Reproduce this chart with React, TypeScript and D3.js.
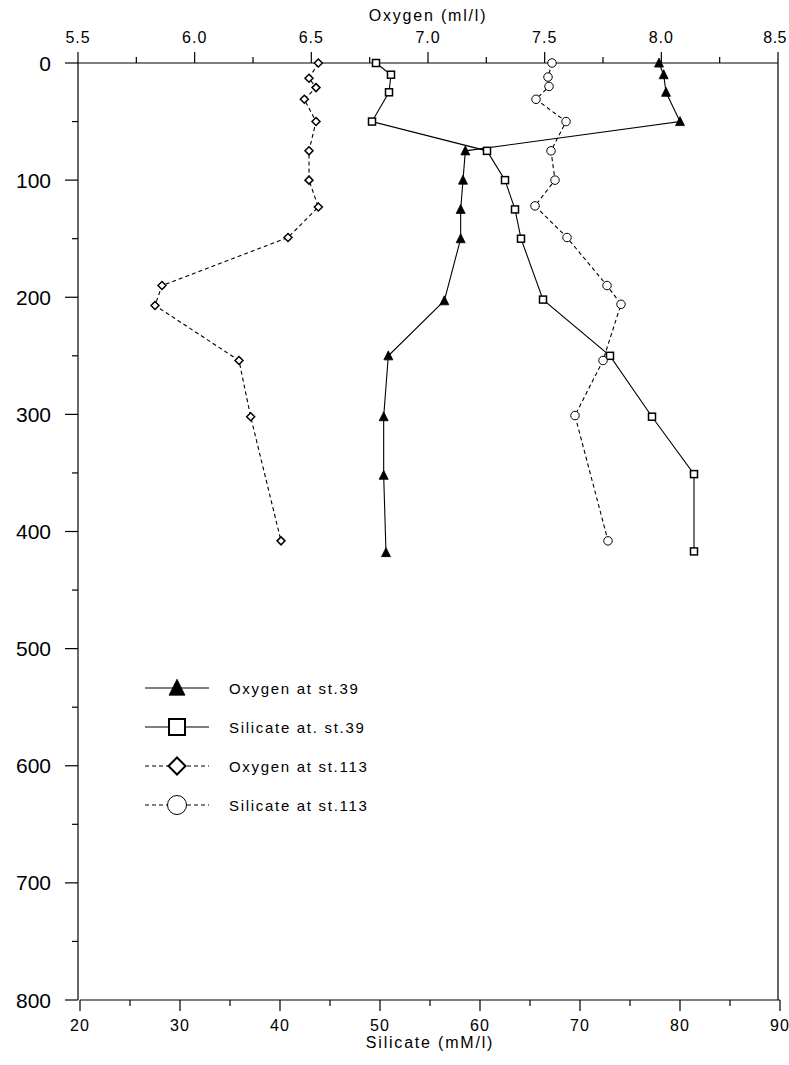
import React from "react";
import * as d3 from "d3";

// ---- data ----
const oxy39Depth = [0, 10, 25, 50, 75, 100, 125, 150, 203, 250, 302, 352, 418];
const oxy39Value = [7.99, 8.01, 8.02, 8.08, 7.16, 7.15, 7.14, 7.14, 7.07, 6.83, 6.81, 6.81, 6.82];

const sil39Depth = [0, 10, 25, 50, 75, 100, 125, 150, 202, 250, 302, 351, 417];
const sil39Value = [49.6, 51.1, 50.9, 49.2, 60.7, 62.5, 63.5, 64.1, 66.3, 73.0, 77.2, 81.4, 81.4];

const oxy113Depth = [0, 13, 21, 31, 50, 75, 100, 123, 149, 190, 207, 254, 302, 408];
const oxy113Value = [6.53, 6.49, 6.52, 6.47, 6.52, 6.49, 6.49, 6.53, 6.40, 5.86, 5.83, 6.19, 6.24, 6.37];

const sil113Depth = [0, 12, 20, 31, 50, 75, 100, 122, 149, 190, 206, 254, 301, 408];
const sil113Value = [67.2, 66.8, 66.9, 65.6, 68.6, 67.1, 67.5, 65.5, 68.7, 72.7, 74.1, 72.3, 69.5, 72.8];

const oxyTicks = [5.5, 6.0, 6.5, 7.0, 7.5, 8.0, 8.5];
const silTicks = [20, 30, 40, 50, 60, 70, 80, 90];
const depthTicks = [0, 100, 200, 300, 400, 500, 600, 700, 800];

const legendLabels = ["Oxygen at st.39", "Silicate at. st.39", "Oxygen at st.113", "Silicate at st.113"];

const FONT = "'Liberation Sans', Arial, sans-serif";

type Kind = "tri" | "sq" | "dia" | "circ";

function Marker({ kind, x, y, s }: { kind: Kind; x: number; y: number; s: number }) {
  if (kind === "tri") {
    const h = s;
    const w = s;
    return (
      <path
        d={`M${x},${y - h * 0.55} L${x + w / 2},${y + h * 0.45} L${x - w / 2},${y + h * 0.45} Z`}
        fill="#000"
        stroke="#000"
        strokeWidth={0.8}
      />
    );
  }
  if (kind === "sq") {
    return (
      <rect x={x - s / 2} y={y - s / 2} width={s} height={s} fill="#fff" stroke="#000" strokeWidth={s > 10 ? 2 : 1.5} />
    );
  }
  if (kind === "dia") {
    const r = s / 2;
    return (
      <path
        d={`M${x},${y - r} L${x + r},${y} L${x},${y + r} L${x - r},${y} Z`}
        fill="#fff"
        stroke="#000"
        strokeWidth={s > 10 ? 2 : 1.5}
      />
    );
  }
  return <circle cx={x} cy={y} r={s / 2} fill="#fff" stroke="#000" strokeWidth={1} />;
}

export default function App() {
  const W = 789;
  const H = 1065;
  const left = 78;
  const right = 778;
  const top = 63;
  const bottom = 1000;

  const xO = d3.scaleLinear().domain([5.5, 8.5]).range([left, right]);
  const xS = d3.scaleLinear().domain([20, 90]).range([80, 780]);
  const yD = d3.scaleLinear().domain([0, 800]).range([top, bottom]);

  const line = d3.line<[number, number]>().x((d) => d[0]).y((d) => d[1]);

  const series = [
    { kind: "tri" as Kind, dash: undefined, pts: oxy39Value.map((v, i) => [xO(v), yD(oxy39Depth[i])] as [number, number]), s: 9 },
    { kind: "sq" as Kind, dash: undefined, pts: sil39Value.map((v, i) => [xS(v), yD(sil39Depth[i])] as [number, number]), s: 7 },
    { kind: "dia" as Kind, dash: "4,3", pts: oxy113Value.map((v, i) => [xO(v), yD(oxy113Depth[i])] as [number, number]), s: 8 },
    { kind: "circ" as Kind, dash: "4,3", pts: sil113Value.map((v, i) => [xS(v), yD(sil113Depth[i])] as [number, number]), s: 8.5 },
  ];

  const oxyMinor = d3.range(5.5, 8.5001, 0.25);
  const silMinor = d3.range(20, 90.001, 5);
  const depthMinor = d3.range(0, 800.001, 50);

  const legendY = [688, 727, 766, 805];
  const legendSizes = [16, 16, 17, 19];

  return (
    <svg
      width={W}
      height={H}
      style={{ position: "absolute", left: 0, top: 0, background: "#fff" }}
      fontFamily={FONT}
    >
      <rect x={0} y={0} width={W} height={H} fill="#fff" />

      {/* frame */}
      <line x1={left} x2={right} y1={top} y2={top} stroke="#000" strokeWidth={1.2} />
      <line x1={left} x2={left} y1={top} y2={bottom} stroke="#000" strokeWidth={1.2} />
      <line x1={right} x2={right} y1={top} y2={bottom} stroke="#000" strokeWidth={1.2} />
      <line x1={xS(20)} x2={xS(90)} y1={bottom} y2={bottom} stroke="#000" strokeWidth={1.2} />

      {/* top axis: oxygen */}
      {oxyMinor.map((t, i) => {
        const major = i % 2 === 0;
        return (
          <line key={"ot" + i} x1={xO(t)} x2={xO(t)} y1={top} y2={top - (major ? 11 : 6)} stroke="#000" strokeWidth={1.2} />
        );
      })}
      {oxyTicks.map((t, i) => {
        const last = i === oxyTicks.length - 1;
        return (
          <text
            key={"ol" + t}
            x={last ? 787 : xO(t)}
            y={43}
            fontSize={16}
            letterSpacing={last ? 0.5 : 1}
            textAnchor={last ? "end" : "middle"}
            fill="#000"
          >
            {d3.format(".1f")(t)}
          </text>
        );
      })}
      <text x={xO(7.0)} y={21} fontSize={16} letterSpacing={1.8} textAnchor="middle" fill="#000">
        Oxygen (ml/l)
      </text>

      {/* bottom axis: silicate */}
      {silMinor.map((t, i) => {
        const major = i % 2 === 0;
        return (
          <line key={"st" + i} x1={xS(t)} x2={xS(t)} y1={bottom} y2={bottom + (major ? 11 : 6)} stroke="#000" strokeWidth={1.2} />
        );
      })}
      {silTicks.map((t) => (
        <text key={"sl" + t} x={xS(t)} y={1031} fontSize={16} letterSpacing={1} textAnchor="middle" fill="#000">
          {t}
        </text>
      ))}
      <text x={xS(55)} y={1048} fontSize={16} letterSpacing={1.8} textAnchor="middle" fill="#000">
        Silicate (mM/l)
      </text>

      {/* left axis: depth */}
      {depthMinor.map((t, i) => {
        const major = i % 2 === 0;
        return (
          <line key={"dt" + i} x1={left} x2={left - (major ? 13 : 6)} y1={yD(t)} y2={yD(t)} stroke="#000" strokeWidth={1.2} />
        );
      })}
      {depthTicks.map((t) => (
        <text key={"dl" + t} x={51} y={yD(t) + 7.5} fontSize={21} textAnchor="end" fill="#000">
          {t}
        </text>
      ))}

      {/* series lines */}
      {series.map((s, i) => (
        <path key={"ln" + i} d={line(s.pts) || ""} fill="none" stroke="#000" strokeWidth={1.1} strokeDasharray={s.dash} />
      ))}
      {/* markers */}
      {series.map((s, i) =>
        s.pts.map((p, j) => <Marker key={"m" + i + "-" + j} kind={s.kind} x={p[0]} y={p[1]} s={s.s} />)
      )}

      {/* legend */}
      {series.map((s, i) => (
        <g key={"lg" + i}>
          <line x1={145} x2={209} y1={legendY[i]} y2={legendY[i]} stroke="#000" strokeWidth={1.1} strokeDasharray={s.dash} />
          <Marker kind={s.kind} x={177} y={legendY[i]} s={legendSizes[i]} />
          <text x={229} y={legendY[i] + 5.5} fontSize={15} letterSpacing={1.7} fill="#000">
            {legendLabels[i]}
          </text>
        </g>
      ))}
    </svg>
  );
}
